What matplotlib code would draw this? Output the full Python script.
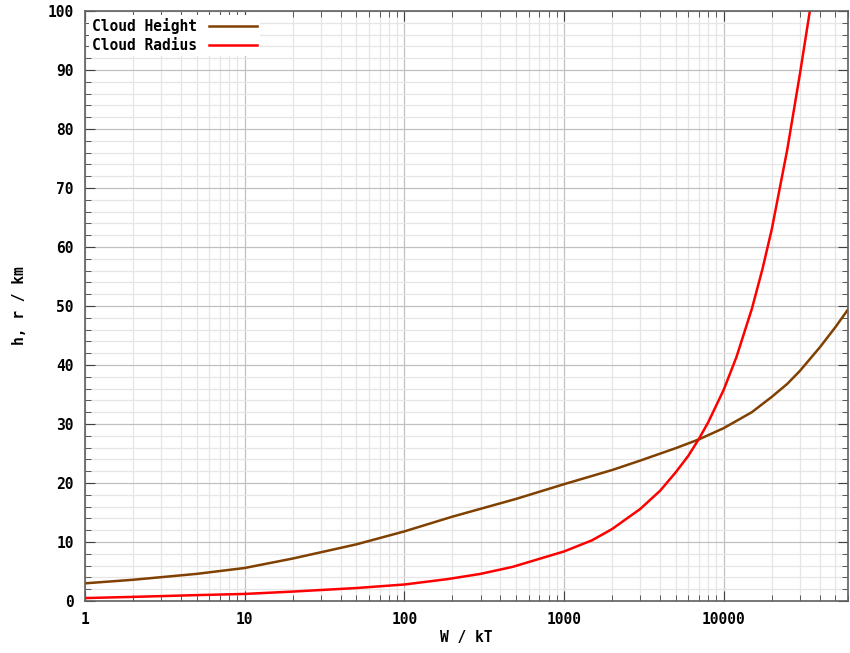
import matplotlib as mpl
import matplotlib.pyplot as plt
from matplotlib.ticker import FixedLocator, MultipleLocator, NullFormatter

mpl.rcParams["font.family"] = ["DejaVu Sans Mono", "DejaVu Sans"]
mpl.rcParams["font.size"] = 10.5
mpl.rcParams["font.weight"] = "bold"
mpl.rcParams["axes.labelweight"] = "bold"

# 读图得到的数据
w_height = [1, 2, 5, 10, 20, 50, 100, 200, 500, 1000, 2000, 3000, 5000,
            7000, 10000, 15000, 20000, 25000, 30000, 40000, 50000, 60000]
cloud_height = [3.0, 3.6, 4.6, 5.6, 7.2, 9.6, 11.8, 14.3, 17.3, 19.8, 22.2,
                23.8, 25.9, 27.4, 29.3, 32.0, 34.6, 36.8, 39.0, 43.0, 46.4,
                49.4]

w_radius = [1, 2, 5, 10, 20, 50, 100, 185, 300, 478, 1000, 1500, 2000, 3000,
            4000, 5000, 6000, 7000, 8000, 10000, 12000, 15000, 17500, 20000,
            25000, 30000, 35000]
cloud_radius = [0.5, 0.7, 1.0, 1.2, 1.6, 2.2, 2.8, 3.7, 4.6, 5.8, 8.4, 10.3,
                12.2, 15.6, 18.7, 21.8, 24.6, 27.5, 30.3, 35.8, 41.3, 49.5,
                56.3, 63.0, 76.5, 89.3, 100.8]

x_ticks = [1, 10, 100, 1000, 10000]
x_tick_labels = ["1", "10", "100", "1000", "10000"]

fig = plt.figure(figsize=(8.5, 6.53), dpi=100)
ax = fig.add_axes([0.1, 0.0796, 0.8976, 0.9036])

ax.plot(w_height, cloud_height, color="#804000", lw=1.8, label="Cloud Height")
ax.plot(w_radius, cloud_radius, color="#ff0000", lw=1.8, label="Cloud Radius")

ax.set_xscale("log")
ax.set_xlim(1, 60000)
ax.set_ylim(0, 100)

ax.xaxis.set_major_locator(FixedLocator(x_ticks))
ax.set_xticklabels(x_tick_labels)
ax.xaxis.set_minor_locator(FixedLocator(
    [m * 10 ** d for d in range(0, 5) for m in range(2, 10)]))
ax.xaxis.set_minor_formatter(NullFormatter())
ax.yaxis.set_major_locator(MultipleLocator(10))
ax.yaxis.set_minor_locator(MultipleLocator(2))

ax.grid(which="major", color="#c0c0c0", lw=0.9)
ax.grid(which="minor", color="#e6e6e6", lw=0.9)
ax.set_axisbelow(True)

ax.tick_params(which="both", direction="in", top=True, right=True,
               color="#404040")
ax.tick_params(which="major", length=7, pad=8)
ax.tick_params(which="minor", length=4)
for s in ax.spines.values():
    s.set_color("#606060")
    s.set_linewidth(1.2)

ax.set_xlabel("W / kT", labelpad=2)
ax.set_ylabel("h, r / km", labelpad=15)

leg = ax.legend(loc="upper left", frameon=True, markerfirst=False,
                handlelength=3.3, borderaxespad=0.3, borderpad=0.2,
                labelspacing=0.25, fancybox=False, edgecolor="none",
                facecolor="white", framealpha=1.0)

plt.savefig("out.png", dpi=100)
